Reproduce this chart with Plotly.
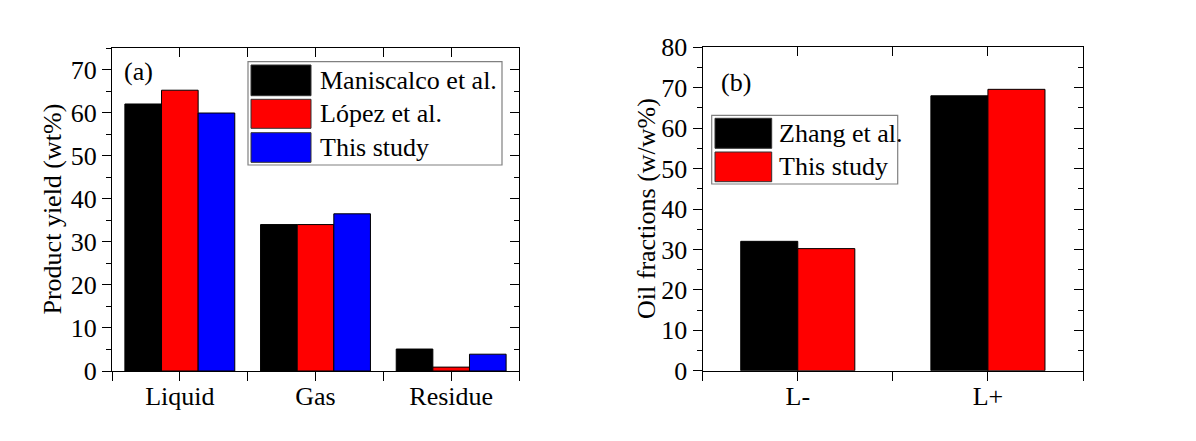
import plotly.graph_objects as go

W, H = 1196, 441

# ---- data ----
cats_a = ["Liquid", "Gas", "Residue"]
names_a = ["Maniscalco et al.", "López et al.", "This study"]
maniscalco = [62.0, 34.0, 5.1]
lopez = [65.2, 34.0, 0.9]
this_a = [59.9, 36.5, 3.9]
colors_a = ["#000000", "#ff0000", "#0000ff"]

cats_b = ["L-", "L+"]
names_b = ["Zhang et al.", "This study"]
zhang = [32.0, 68.0]
this_b = [30.2, 69.6]
colors_b = ["#000000", "#ff0000"]

FONT = "Liberation Serif, Times New Roman, serif"
FS = 26


def px(x):
    return x / W


def py(y):
    return 1 - y / H


fig = go.Figure()

# panel a bars
xa = list(range(len(cats_a)))
wa = 0.27
for i, (vals, nm, col) in enumerate(zip([maniscalco, lopez, this_a], names_a, colors_a)):
    fig.add_trace(go.Bar(x=xa, y=vals, name=nm, width=wa, offset=-1.5 * wa + i * wa,
                         marker=dict(color=col, line=dict(color="black", width=1)),
                         xaxis="x", yaxis="y", showlegend=False))

# panel b bars
xb = list(range(len(cats_b)))
wb = 0.3
for i, (vals, nm, col) in enumerate(zip([zhang, this_b], names_b, colors_b)):
    fig.add_trace(go.Bar(x=xb, y=vals, name=nm, width=wb, offset=-wb + i * wb,
                         marker=dict(color=col, line=dict(color="black", width=1)),
                         xaxis="x2", yaxis="y2", showlegend=False))

# dummy traces so overlay axes render
for xr, yr in [("x3", "y3"), ("x4", "y4")]:
    fig.add_trace(go.Scatter(x=[None], y=[None], xaxis=xr, yaxis=yr, showlegend=False,
                             hoverinfo="skip"))

dom_ax = [px(112), px(519)]
dom_ay = [py(371), py(48)]
dom_bx = [px(702.7), px(1083)]
dom_by = [py(370.7), py(47.3)]

tickfont = dict(family=FONT, size=FS, color="black")
common = dict(showgrid=False, zeroline=False, linecolor="black", linewidth=1.3,
              tickcolor="black", tickwidth=1.3, tickfont=tickfont, automargin=False)
over = dict(showticklabels=False, showline=False, showgrid=False, zeroline=False,
            tickcolor="black", tickwidth=1.3, automargin=False)

xr_a = [-0.5, len(cats_a) - 0.5]
xr_b = [-0.5, len(cats_b) - 0.5]


def xminor(kind):
    return dict(tick0=0.5, dtick=1, ticks=kind, ticklen=9, tickcolor="black", tickwidth=1.3)


def yminor(kind):
    return dict(dtick=5, ticks=kind, ticklen=5, tickcolor="black", tickwidth=1.3)


fig.update_layout(
    width=W, height=H, margin=dict(l=0, r=0, t=0, b=0, pad=0, autoexpand=False),
    paper_bgcolor="white", plot_bgcolor="white",
    font=dict(family=FONT, size=FS, color="black"),
    xaxis=dict(domain=dom_ax, anchor="y", range=xr_a, tickmode="array", tickvals=xa,
               ticktext=cats_a, ticks="outside", ticklen=9, mirror=True,
               ticklabelstandoff=-7, minor=xminor("outside"), **common),
    yaxis=dict(domain=dom_ay, anchor="x", range=[0, 75], dtick=10, ticks="outside",
               ticklen=9, mirror=True, minor=yminor("outside"), **common),
    xaxis3=dict(overlaying="x", anchor="y3", side="top", range=xr_a, tickmode="array",
                tickvals=xa, ticks="inside", ticklen=9, minor=xminor("inside"), **over),
    yaxis3=dict(overlaying="y", anchor="x3", side="right", range=[0, 75], dtick=10,
                ticks="inside", ticklen=9, minor=yminor("inside"), **over),
    xaxis2=dict(domain=dom_bx, anchor="y2", range=xr_b, tickmode="array", tickvals=xb,
                ticktext=cats_b, ticks="outside", ticklen=9, mirror=True,
                ticklabelstandoff=-7, minor=xminor("outside"), **common),
    yaxis2=dict(domain=dom_by, anchor="x2", range=[0, 80], dtick=10, ticks="outside",
                ticklen=9, mirror=True, minor=yminor("outside"), **common),
    xaxis4=dict(overlaying="x2", anchor="y4", side="top", range=xr_b, tickmode="array",
                tickvals=xb, ticks="inside", ticklen=9, minor=xminor("inside"), **over),
    yaxis4=dict(overlaying="y2", anchor="x4", side="right", range=[0, 80], dtick=10,
                ticks="inside", ticklen=9, minor=yminor("inside"), **over),
)

shapes = []
annotations = []
tfont = dict(family=FONT, size=FS, color="black")

# axis titles
annotations.append(dict(text="Product yield (wt%)", x=px(52), y=py(209.5), xref="paper",
                        yref="paper", textangle=-90, showarrow=False, xanchor="center",
                        yanchor="middle", font=tfont))
annotations.append(dict(text="Oil fractions (w/w%)", x=px(647), y=py(209), xref="paper",
                        yref="paper", textangle=-90, showarrow=False, xanchor="center",
                        yanchor="middle", font=tfont))
# panel labels
annotations.append(dict(text="(a)", x=px(122), y=py(71), xref="paper", yref="paper",
                        xanchor="left", yanchor="middle", showarrow=False, font=tfont))
annotations.append(dict(text="(b)", x=px(719), y=py(82), xref="paper", yref="paper",
                        xanchor="left", yanchor="middle", showarrow=False, font=tfont))


def legend(box, sw_x, rows, text_x, names, colors):
    x0, y0, x1, y1 = box
    shapes.append(dict(type="rect", xref="paper", yref="paper", x0=px(x0), x1=px(x1),
                       y0=py(y1), y1=py(y0), line=dict(color="#808080", width=1.2),
                       fillcolor="white", layer="above"))
    for (r0, r1), nm, col in zip(rows, names, colors):
        shapes.append(dict(type="rect", xref="paper", yref="paper", x0=px(sw_x[0]),
                           x1=px(sw_x[1]), y0=py(r1), y1=py(r0),
                           line=dict(color="#333333", width=1), fillcolor=col,
                           layer="above"))
        annotations.append(dict(text=nm, x=px(text_x), y=py((r0 + r1) / 2), xref="paper",
                                yref="paper", xanchor="left", yanchor="middle",
                                showarrow=False, font=tfont))


legend((248, 61.7, 502, 165), (251, 311), [(65, 95.7), (99.3, 128.3), (132.7, 162.3)],
       318, names_a, colors_a)
legend((711.7, 115.3, 897.7, 184), (715, 771.7), [(118.3, 148.3), (152, 181.7)],
       777, names_b, colors_b)

fig.update_layout(shapes=shapes, annotations=annotations)

fig.write_html("out.html")
